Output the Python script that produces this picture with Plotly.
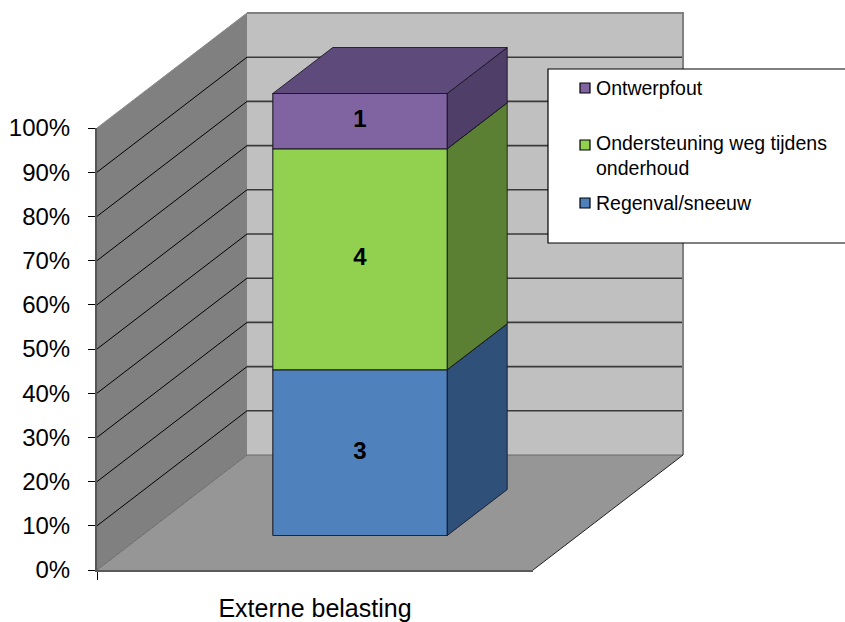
import textwrap
import plotly.graph_objects as go

# ---- data -------------------------------------------------------------
CATEGORY = "Externe belasting"
SERIES = ["Regenval/sneeuw", "Ondersteuning weg tijdens onderhoud", "Ontwerpfout"]  # stacked bottom -> top
VALUES = [3, 4, 1]
FRONT_COLORS = ["#4F81BD", "#92D050", "#8064A2"]
SIDE_COLORS = ["#2F5079", "#5C8033", "#4F3E67"]
TOP_COLORS = ["#3D6797", "#74A640", "#5F4B7B"]
Y_TICKS = [0, 10, 20, 30, 40, 50, 60, 70, 80, 90, 100]
Y_TICK_TEXT = [f"{t}%" for t in Y_TICKS]

# ---- geometry of the pseudo-3D box (pixels of the 845x622 canvas) ------
W, H = 845, 622
AX_L, AX_R = 97, 533      # ends of the category axis
AX_B, AX_T = 570, 128     # 0% and 100% on the front plane
DEPTH_SHIFT = (150, 115)  # screen shift (right, up) of the full floor depth
BAR_WIDTH = 0.4           # share of the category slot
BAR_D0, BAR_D1 = 0.3, 0.7 # bar position along the depth

SX = (AX_R - AX_L) / 1.0      # px per category unit
SY = (AX_B - AX_T) / 100.0    # px per percent
DX = DEPTH_SHIFT[0] / SX
DY = DEPTH_SHIFT[1] / SY

FONT = "Liberation Sans, Arial, sans-serif"


def proj(x, y, d):
    """Oblique projection of (category x, percent y, depth d)."""
    return x + d * DX, y + d * DY


fig = go.Figure()


def polygon(pts, fill, line_color, width=1.0):
    xs = [p[0] for p in pts] + [pts[0][0]]
    ys = [p[1] for p in pts] + [pts[0][1]]
    fig.add_trace(go.Scatter(
        x=xs, y=ys, mode="lines", fill="toself", fillcolor=fill,
        line=dict(color=line_color, width=width),
        hoverinfo="skip", showlegend=False, xaxis="x", yaxis="y"))


def polyline(segments, color, width):
    xs, ys = [], []
    for seg in segments:
        for p in seg:
            xs.append(p[0])
            ys.append(p[1])
        xs.append(None)
        ys.append(None)
    fig.add_trace(go.Scatter(
        x=xs, y=ys, mode="lines", line=dict(color=color, width=width),
        hoverinfo="skip", showlegend=False, xaxis="x", yaxis="y"))


xl, xr = -0.5, 0.5
ymax = Y_TICKS[-1]

# walls and floor
polygon([proj(xl, 0, 1), proj(xr, 0, 1), proj(xr, ymax, 1), proj(xl, ymax, 1)], "#C0C0C0", "rgba(0,0,0,0)", 0)
polygon([proj(xl, 0, 0), proj(xl, ymax, 0), proj(xl, ymax, 1), proj(xl, 0, 1)], "#808080", "rgba(0,0,0,0)", 0)
polygon([proj(xl, 0, 0), proj(xr, 0, 0), proj(xr, 0, 1), proj(xl, 0, 1)], "#969696", "rgba(0,0,0,0)", 0)

# gridlines on back wall and side wall
inner = Y_TICKS[1:-1]
polyline([[proj(xl, t, 1), proj(xr, t, 1)] for t in inner], "#3A3A3A", 1.6)
polyline([[proj(xl, t, 0), proj(xl, t, 1)] for t in inner], "#000000", 1)

# wall edges
polyline([[proj(xl, ymax, 1), proj(xr, ymax, 1), proj(xr, 0, 1)]], "#808080", 2)
polyline([[proj(xl, ymax, 0), proj(xl, ymax, 1)]], "#8A8A8A", 1)
polyline([[proj(xl, 0, 0), proj(xl, 0, 1), proj(xr, 0, 1)]], "#6A6A6A", 1)
polyline([[proj(xr, 0, 0), proj(xr, 0, 1)]], "#202020", 1)

# stacked 100% bar
total = float(sum(VALUES))
bx0, bx1 = -BAR_WIDTH / 2, BAR_WIDTH / 2
base = 0.0
label_x, label_y, label_t = [], [], []
for val, fc, sc, tc in zip(VALUES, FRONT_COLORS, SIDE_COLORS, TOP_COLORS):
    top = base + val / total * 100.0
    edge = "rgba(20,20,30,0.85)"
    # right side face
    polygon([proj(bx1, base, BAR_D0), proj(bx1, base, BAR_D1),
             proj(bx1, top, BAR_D1), proj(bx1, top, BAR_D0)], sc, edge, 1)
    # front face
    polygon([proj(bx0, base, BAR_D0), proj(bx1, base, BAR_D0),
             proj(bx1, top, BAR_D0), proj(bx0, top, BAR_D0)], fc, edge, 1.2)
    # top face
    polygon([proj(bx0, top, BAR_D0), proj(bx1, top, BAR_D0),
             proj(bx1, top, BAR_D1), proj(bx0, top, BAR_D1)], tc, edge, 1)
    cx, cy = proj(0.0, (base + top) / 2, BAR_D0)
    label_x.append(cx)
    label_y.append(cy)
    label_t.append(str(val))
    base = top

fig.add_trace(go.Scatter(
    x=label_x, y=label_y, text=label_t, mode="text",
    textfont=dict(family=FONT, size=24, color="#000000", weight="bold"),
    hoverinfo="skip", showlegend=False, xaxis="x", yaxis="y"))

# invisible anchor so the front axes carry the category
fig.add_trace(go.Scatter(
    x=[CATEGORY], y=[0], mode="markers", marker=dict(opacity=0),
    hoverinfo="skip", showlegend=False, xaxis="x2", yaxis="y2"))

# ---- legend (white box with coloured squares) --------------------------
LEG_BOX = (548, 69, W + 2, 243)
LEG_ROWS = [88, 145, 203]     # centre of the first text line, top -> bottom
LEG_SQ_X, LEG_SQ = 580, 10
LEG_TEXT_X = 594
LEG_FONT = 19.5
LEG_LINE_H = 22


def px(x):
    return x / W


def py(y):
    return 1 - y / H


shapes = [dict(type="rect", xref="paper", yref="paper",
               x0=px(LEG_BOX[0]), x1=px(LEG_BOX[2]), y0=py(LEG_BOX[3]), y1=py(LEG_BOX[1]),
               fillcolor="#FFFFFF", line=dict(color="#000000", width=1.2), layer="above")]
annotations = []
for row_y, name, color in zip(LEG_ROWS, SERIES[::-1], FRONT_COLORS[::-1]):
    shapes.append(dict(type="rect", xref="paper", yref="paper",
                       x0=px(LEG_SQ_X), x1=px(LEG_SQ_X + LEG_SQ),
                       y0=py(row_y + LEG_SQ / 2), y1=py(row_y - LEG_SQ / 2),
                       fillcolor=color, line=dict(color="#000000", width=1.2), layer="above"))
    lines = textwrap.wrap(name, 25)
    centre = row_y + (len(lines) - 1) * LEG_LINE_H / 2
    annotations.append(dict(xref="paper", yref="paper", x=px(LEG_TEXT_X), y=py(centre),
                            xanchor="left", yanchor="middle", align="left", showarrow=False,
                            text="<br>".join(lines),
                            font=dict(family=FONT, size=LEG_FONT, color="#000000")))

fig.update_layout(
    width=W, height=H,
    margin=dict(l=0, r=0, t=0, b=0, autoexpand=False),
    paper_bgcolor="#FFFFFF", plot_bgcolor="rgba(0,0,0,0)",
    showlegend=False,
    font=dict(family=FONT, size=24, color="#000000"),
    xaxis=dict(domain=[0, 1], range=[-AX_L / SX - 0.5, (W - AX_L) / SX - 0.5],
               visible=False, fixedrange=True, anchor="y"),
    yaxis=dict(domain=[0, 1], range=[(AX_B - H) / SY, AX_B / SY],
               visible=False, fixedrange=True, anchor="x"),
    xaxis2=dict(domain=[AX_L / W, AX_R / W], anchor="y2", type="category",
                range=[-0.5, 0.5], tickson="boundaries", ticks="outside", ticklen=8,
                tickcolor="#000000", showline=True, linecolor="#5A5A5A", linewidth=2,
                showgrid=False, zeroline=False, ticklabelstandoff=15,
                tickfont=dict(family=FONT, size=25, color="#000000")),
    yaxis2=dict(domain=[(H - AX_B) / H, (H - AX_T) / H], anchor="x2",
                range=[0, 100], tickmode="array", tickvals=Y_TICKS, ticktext=Y_TICK_TEXT,
                ticks="outside", ticklen=7, tickcolor="#000000", showline=True,
                linecolor="#555555", linewidth=2, showgrid=False, zeroline=False,
                ticklabelstandoff=13,
                tickfont=dict(family=FONT, size=24, color="#000000")),
    shapes=shapes,
    annotations=annotations,
)

fig.write_html("out.html")
